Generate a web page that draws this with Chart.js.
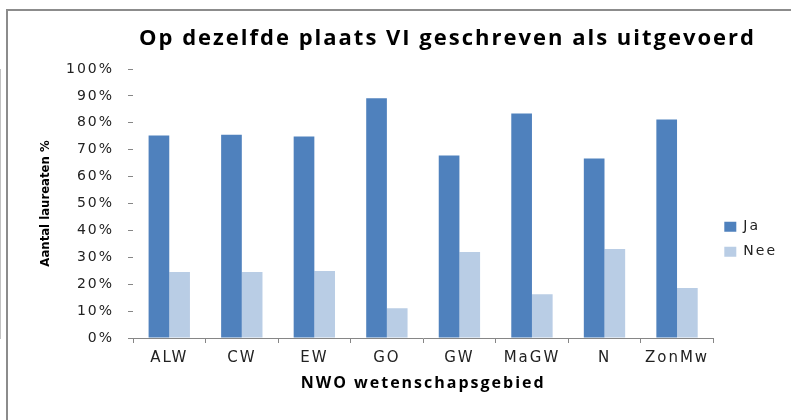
<!DOCTYPE html>
<html>
<head>
<meta charset="utf-8">
<script src="https://cdn.jsdelivr.net/npm/chart.js@4.4.1/dist/chart.umd.min.js"></script>
<style>
  html, body { margin: 0; padding: 0; background: #fff; }
  #wrap { position: relative; width: 791px; height: 420px; overflow: hidden; }
  #frame { position: absolute; left: 6px; top: 9px; width: 900px; height: 500px;
           border-left: 2px solid #8c8c8c; border-top: 2px solid #8c8c8c; }
  #chart { position: absolute; left: 0; top: 0; }
</style>
</head>
<body>
<div id="wrap">
  <div id="frame"></div>
  <canvas id="chart" width="791" height="420"></canvas>
</div>
<script>
// chart data (percentages)
const categories = ["ALW", "CW", "EW", "GO", "GW", "MaGW", "N", "ZonMw"];
const jaValues = [75.3, 75.6, 74.9, 89.1, 67.8, 83.5, 66.7, 81.2];
const neeValues = [24.5, 24.5, 24.9, 11.1, 32.0, 16.3, 33.1, 18.6];
const yTicks = [0, 10, 20, 30, 40, 50, 60, 70, 80, 90, 100];

const axisColor = '#868686';

// the original text is drawn wide, so most labels get some letter spacing;
// the y axis title (drawn after the bars) goes back to normal spacing
const spacingPlugin = {
    id: 'spacing',
    beforeLayout(chart) { chart.ctx.letterSpacing = '2px'; },
    afterLayout(chart) {
        // title sits a bit right of the canvas centre
        chart.titleBlock.left = 108;
    },
    beforeDraw(chart) { chart.ctx.letterSpacing = '2px'; },
    afterDatasetsDraw(chart) { chart.ctx.letterSpacing = '0px'; },
    afterDraw(chart) { chart.ctx.letterSpacing = '0px'; }
};

const chartData = {
    labels: categories,
    datasets: [{
        label: 'Ja',
        data: jaValues,
        backgroundColor: '#4F81BD',
        borderWidth: 0
    }, {
        label: 'Nee',
        data: neeValues,
        backgroundColor: '#B9CDE5',
        borderWidth: 0
    }]
};

const chartOptions = {
    responsive: false,
    animation: false,
    categoryPercentage: 0.57,
    barPercentage: 1.0,
    layout: {
        padding: { left: 0, right: 4, top: 0, bottom: 0 }
    },
    scales: {
        x: {
            grid: { drawOnChartArea: false, drawTicks: true, tickLength: 5, color: axisColor, offset: true },
            border: { display: true, color: axisColor },
            ticks: { font: { family: 'DejaVu Sans', size: 15 }, color: '#222', padding: 6, maxRotation: 0, autoSkip: false },
            title: {
                display: true,
                text: 'NWO wetenschapsgebied',
                font: { family: 'Open Sans', size: 16, weight: 'bold' },
                color: '#000',
                padding: { top: 0, bottom: 27 }
            },
            afterFit: scale => { scale.height = 82; }
        },
        y: {
            min: 0,
            max: 100,
            afterBuildTicks: scale => { scale.ticks = yTicks.map(v => ({ value: v })); },
            grid: { drawOnChartArea: false, drawTicks: true, tickLength: 5, color: axisColor, z: 1 },
            border: { display: true, color: axisColor },
            ticks: { font: { family: 'DejaVu Sans', size: 14 }, color: '#222', padding: 14, callback: v => v + '%' },
            title: {
                display: true,
                text: 'Aantal laureaten %',
                font: { family: "'Liberation Sans Narrow', 'DejaVu Sans Condensed', sans-serif", size: 13, weight: 'bold' },
                color: '#000',
                padding: { top: 38, bottom: 0 }
            },
            afterFit: scale => { scale.width = 133; }
        }
    },
    plugins: {
        title: {
            display: true,
            text: 'Op dezelfde plaats VI geschreven als uitgevoerd',
            font: { family: 'Open Sans', size: 22, weight: 'bold' },
            color: '#000',
            padding: { top: 26, bottom: 16.6 }
        },
        legend: {
            position: 'right',
            title: { display: true, text: ' ', font: { size: 12 }, padding: { top: 22, bottom: 22 } },
            labels: {
                boxWidth: 12,
                boxHeight: 10,
                padding: 11,
                color: '#222',
                font: { family: 'DejaVu Sans', size: 14 }
            }
        },
        tooltip: { enabled: false }
    }
};

let barChart = new Chart(document.getElementById('chart'), {
    type: 'bar',
    data: chartData,
    options: chartOptions,
    plugins: [spacingPlugin]
});
</script>
</body>
</html>
